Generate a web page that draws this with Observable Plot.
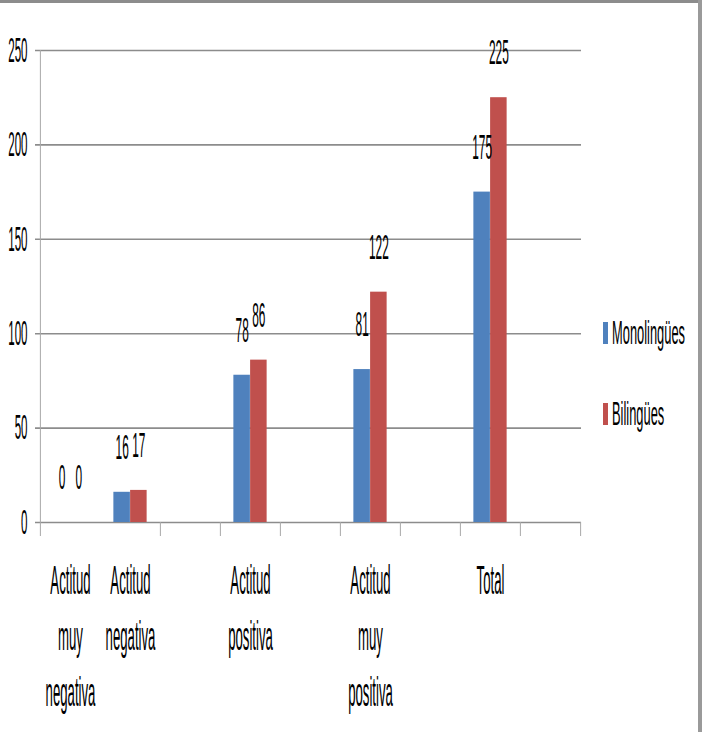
<!DOCTYPE html>
<html>
<head>
<meta charset="utf-8">
<script src="https://cdn.jsdelivr.net/npm/d3@7"></script>
<script src="https://cdn.jsdelivr.net/npm/@observablehq/plot@0.6"></script>
<style>
html, body { margin: 0; padding: 0; background: #fff; }
#wrap { position: relative; width: 702px; height: 732px; overflow: hidden; font-family: "Liberation Sans", Arial, sans-serif; }
#chart svg { position: absolute; left: 0; top: 0; display: block; }
.bt { position: absolute; left: 0; top: 0; width: 702px; height: 3px; background: #8c8c8c; }
.br { position: absolute; left: 698px; top: 0; width: 4px; height: 732px; background: #9a9a9a; }
.item { position: absolute; white-space: nowrap; display: flex; align-items: center; height: 24px; }
.sw { display: inline-block; width: 5px; height: 22px; }
.lab { display: inline-block; font-size: 33px; line-height: 24px; color: #000; transform: scaleX(0.39); transform-origin: left center; margin-left: 4px; }
</style>
</head>
<body>
<div id="wrap">
  <div id="chart"></div>
  <div id="legend"></div>
  <div class="bt"></div>
  <div class="br"></div>
</div>
<script>
// ---- data ----
const categories = ["Actitud muy negativa", "Actitud negativa", "Actitud positiva", "Actitud muy positiva", "Total"];
const categoryLabels = ["Actitud\nmuy\nnegativa", "Actitud\nnegativa", "Actitud\npositiva", "Actitud\nmuy\npositiva", "Total"];
const series = ["Monolingües", "Bilingües"];
const monolingues = [0, 16, 78, 81, 175];
const bilingues = [0, 17, 86, 122, 225];
const yTicks = [0, 50, 100, 150, 200, 250];
// category axis of the original sheet, with its blank categories
const slots = ["Actitud muy negativa", "Actitud negativa", "(vacío 1)", "Actitud positiva", "(vacío 2)", "Actitud muy positiva", "(vacío 3)", "Total", "(vacío 4)"];

// ---- layout / style ----
const W = 702, H = 732, mL = 39, mR = 121, mT = 50, mB = 210;
const step = (W - mL - mR) / slots.length;
const bw = step * 0.278;
const outer = step / 2 - bw;
const colors = ["#4f81bd", "#c0504d"];
const gridColor = "#8c8c8c";
const axisColor = "#a8a8a8";
const textScale = 0.33;

const rows = categories.flatMap((c, i) => [
  {cat: c, series: series[0], value: monolingues[i]},
  {cat: c, series: series[1], value: bilingues[i]}
]);
const mono = rows.filter(d => d.series === series[0]);
const bili = rows.filter(d => d.series === series[1]);

const chart = Plot.plot({
  width: W, height: H,
  marginLeft: mL, marginRight: mR, marginTop: mT, marginBottom: mB,
  style: {fontFamily: "Liberation Sans, Arial, sans-serif", color: "#000", background: "transparent"},
  x: {type: "band", domain: slots, padding: 0, axis: null},
  y: {domain: [0, 250], axis: null},
  color: {domain: series, range: colors},
  marks: [
    Plot.ruleY(yTicks, {y: d => d, stroke: gridColor, strokeWidth: 1.6, insetLeft: -4}),
    Plot.ruleX([slots[0]], {x: d => d, dx: -step / 2, y1: 250, y2: 0, insetBottom: -14, stroke: axisColor}),
    Plot.ruleX(slots.filter((s, i) => i > 1), {x: d => d, dx: -step / 2, y1: 0, y2: 0, insetBottom: -14, stroke: axisColor}),
    Plot.ruleX([slots[slots.length - 1]], {x: d => d, dx: step / 2, y1: 0, y2: 0, insetBottom: -14, stroke: axisColor}),
    Plot.barY(mono, {x: "cat", y: "value", fill: "series", insetLeft: outer, insetRight: step / 2}),
    Plot.barY(bili, {x: "cat", y: "value", fill: "series", insetLeft: step / 2, insetRight: outer}),
    Plot.text(mono, {x: "cat", y: "value", text: d => String(d.value), dx: -bw / 2, dy: -45, fontSize: 36}),
    Plot.text(bili, {x: "cat", y: "value", text: d => String(d.value), dx: bw / 2, dy: -45, fontSize: 36}),
    Plot.text(categories, {x: d => d, text: (d, i) => categoryLabels[i], frameAnchor: "bottom", lineAnchor: "top", dy: 32, fontSize: 40, lineHeight: 1.4}),
    Plot.text(yTicks, {y: d => d, text: d => String(d), frameAnchor: "left", textAnchor: "end", dx: -12, fontSize: 35})
  ]
});

// condensed lettering of the original
chart.querySelectorAll("text").forEach(t => {
  const tr = t.getAttribute("transform");
  t.setAttribute("transform", (tr ? tr + " " : "") + `scale(${textScale},1)`);
});
document.getElementById("chart").appendChild(chart);

// legend
const legendTops = [321, 402];
const legend = document.getElementById("legend");
series.forEach((s, i) => {
  const item = document.createElement("div");
  item.className = "item";
  item.style.left = "603px";
  item.style.top = legendTops[i] + "px";
  const sw = document.createElement("span");
  sw.className = "sw";
  sw.style.background = colors[i];
  const lab = document.createElement("span");
  lab.className = "lab";
  lab.textContent = s;
  item.appendChild(sw);
  item.appendChild(lab);
  legend.appendChild(item);
});
</script>
</body>
</html>
